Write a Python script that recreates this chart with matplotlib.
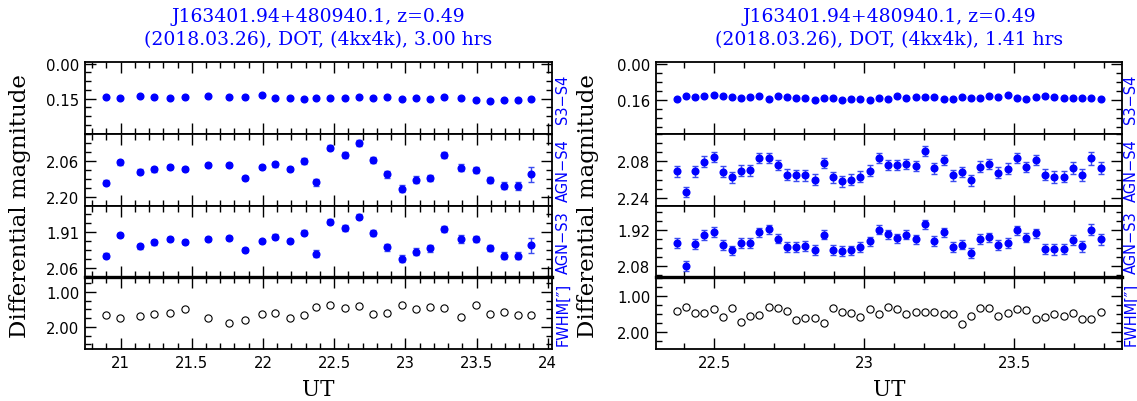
import matplotlib
matplotlib.use('Agg')
import matplotlib.pyplot as plt
from matplotlib.ticker import MultipleLocator, FixedLocator, AutoMinorLocator, FormatStrFormatter

plt.rcParams['font.family'] = 'DejaVu Serif'

# ---- night 1 (3.00 hrs) ----
ut_left = [20.897, 20.998, 21.133, 21.232, 21.347, 21.454, 21.614, 21.761, 21.874, 21.991,
           22.084, 22.192, 22.286, 22.372, 22.473, 22.574, 22.672, 22.773, 22.871, 22.974,
           23.073, 23.173, 23.274, 23.393, 23.494, 23.595, 23.693, 23.794, 23.885]
s3s4_left = [0.144, 0.146, 0.138, 0.143, 0.147, 0.143, 0.139, 0.144, 0.144, 0.136,
             0.147, 0.149, 0.151, 0.146, 0.146, 0.149, 0.142, 0.146, 0.143, 0.153,
             0.149, 0.153, 0.143, 0.149, 0.157, 0.161, 0.154, 0.157, 0.153]
agns4_left = [2.144, 2.065, 2.101, 2.091, 2.082, 2.089, 2.074, 2.074, 2.124, 2.082,
              2.073, 2.091, 2.060, 2.142, 2.008, 2.037, 1.990, 2.057, 2.111, 2.166,
              2.131, 2.125, 2.037, 2.085, 2.095, 2.133, 2.155, 2.157, 2.111]
agns4_err_left = [0.010, 0.010, 0.009, 0.010, 0.008, 0.008, 0.008, 0.008, 0.008, 0.008,
                  0.009, 0.009, 0.011, 0.013, 0.011, 0.012, 0.011, 0.012, 0.013, 0.013,
                  0.013, 0.013, 0.011, 0.014, 0.012, 0.012, 0.014, 0.015, 0.030]
agns3_left = [2.010, 1.923, 1.971, 1.954, 1.941, 1.952, 1.939, 1.935, 1.986, 1.950,
              1.929, 1.949, 1.913, 2.002, 1.866, 1.892, 1.846, 1.913, 1.975, 2.023,
              1.993, 1.979, 1.898, 1.939, 1.941, 1.979, 2.010, 2.010, 1.966]
agns3_err_left = [0.011, 0.010, 0.010, 0.010, 0.008, 0.008, 0.008, 0.008, 0.008, 0.008,
                  0.009, 0.009, 0.011, 0.014, 0.011, 0.013, 0.011, 0.012, 0.014, 0.014,
                  0.014, 0.014, 0.012, 0.016, 0.013, 0.013, 0.015, 0.016, 0.032]
fwhm_left = [1.65, 1.76, 1.70, 1.62, 1.61, 1.50, 1.75, 1.88, 1.79, 1.62,
             1.59, 1.76, 1.65, 1.42, 1.37, 1.45, 1.41, 1.62, 1.60, 1.37,
             1.49, 1.43, 1.46, 1.72, 1.39, 1.62, 1.57, 1.67, 1.67]

# ---- night 2 (1.41 hrs) ----
ut_right = [22.374, 22.405, 22.435, 22.466, 22.498, 22.529, 22.559, 22.590, 22.620, 22.650,
            22.681, 22.712, 22.743, 22.773, 22.803, 22.835, 22.865, 22.895, 22.925, 22.956,
            22.986, 23.017, 23.049, 23.079, 23.110, 23.140, 23.171, 23.202, 23.233, 23.264,
            23.294, 23.324, 23.356, 23.386, 23.417, 23.447, 23.478, 23.510, 23.540, 23.571,
            23.601, 23.632, 23.664, 23.694, 23.725, 23.756, 23.788]
s3s4_right = [0.153, 0.142, 0.144, 0.142, 0.138, 0.141, 0.145, 0.148, 0.147, 0.141,
              0.156, 0.139, 0.145, 0.148, 0.150, 0.160, 0.148, 0.148, 0.160, 0.153,
              0.153, 0.157, 0.151, 0.156, 0.142, 0.151, 0.147, 0.147, 0.147, 0.153,
              0.156, 0.147, 0.148, 0.148, 0.142, 0.147, 0.138, 0.151, 0.156, 0.144,
              0.141, 0.147, 0.148, 0.150, 0.151, 0.151, 0.153]
agns4_right = [2.124, 2.216, 2.123, 2.081, 2.059, 2.126, 2.151, 2.121, 2.120, 2.067,
               2.067, 2.095, 2.139, 2.142, 2.141, 2.161, 2.086, 2.150, 2.167, 2.160,
               2.148, 2.121, 2.067, 2.095, 2.095, 2.090, 2.101, 2.036, 2.110, 2.074,
               2.142, 2.126, 2.164, 2.104, 2.090, 2.130, 2.113, 2.067, 2.105, 2.074,
               2.139, 2.148, 2.147, 2.111, 2.141, 2.067, 2.111]
agns4_err_right = [0.024, 0.022, 0.024, 0.024, 0.022, 0.024, 0.024, 0.024, 0.024, 0.022,
                   0.022, 0.022, 0.024, 0.024, 0.024, 0.024, 0.022, 0.024, 0.024, 0.024,
                   0.024, 0.024, 0.022, 0.022, 0.022, 0.022, 0.022, 0.022, 0.024, 0.022,
                   0.024, 0.022, 0.024, 0.024, 0.022, 0.024, 0.024, 0.022, 0.022, 0.022,
                   0.024, 0.026, 0.026, 0.026, 0.026, 0.028, 0.026]
agns3_right = [1.978, 2.080, 1.984, 1.944, 1.929, 1.990, 2.013, 1.979, 1.978, 1.933,
               1.919, 1.960, 1.997, 1.999, 1.994, 2.009, 1.944, 2.009, 2.016, 2.013,
               1.999, 1.973, 1.921, 1.941, 1.958, 1.944, 1.964, 1.896, 1.972, 1.932,
               1.996, 1.987, 2.024, 1.963, 1.954, 1.988, 1.979, 1.923, 1.957, 1.936,
               2.006, 2.007, 2.006, 1.966, 1.994, 1.920, 1.964]
agns3_err_right = [0.022, 0.022, 0.022, 0.022, 0.022, 0.022, 0.022, 0.022, 0.022, 0.020,
                   0.020, 0.020, 0.022, 0.022, 0.022, 0.022, 0.020, 0.022, 0.022, 0.022,
                   0.022, 0.022, 0.020, 0.020, 0.020, 0.020, 0.020, 0.020, 0.022, 0.020,
                   0.022, 0.020, 0.022, 0.022, 0.020, 0.022, 0.022, 0.020, 0.020, 0.020,
                   0.022, 0.024, 0.024, 0.024, 0.024, 0.026, 0.024]
fwhm_right = [1.42, 1.31, 1.48, 1.46, 1.35, 1.58, 1.33, 1.72, 1.56, 1.53,
              1.29, 1.34, 1.42, 1.68, 1.61, 1.61, 1.74, 1.34, 1.45, 1.46,
              1.57, 1.36, 1.49, 1.30, 1.36, 1.51, 1.45, 1.44, 1.45, 1.51,
              1.49, 1.77, 1.55, 1.32, 1.34, 1.55, 1.46, 1.36, 1.40, 1.64,
              1.57, 1.51, 1.55, 1.48, 1.64, 1.64, 1.44]

title_line1 = 'J163401.94+480940.1, z=0.49'
title_left = '(2018.03.26), DOT, (4kx4k), 3.00 hrs'
title_right = '(2018.03.26), DOT, (4kx4k), 1.41 hrs'
row_names = ['S3\u2212S4', 'AGN\u2212S4', 'AGN\u2212S3', 'FWHM[\u2033]']

# y ranges (inverted, magnitudes) and major tick values per row
ylims_left = [(0.300, -0.007), (2.231, 1.955), (2.101, 1.798), (2.63, 0.585)]
yticks_left = [[0.00, 0.15], [2.06, 2.20], [1.91, 2.06], [1.00, 2.00]]
ylims_right = [(0.308, -0.010), (2.274, 1.959), (2.132, 1.813), (2.48, 0.47)]
yticks_right = [[0.00, 0.16], [2.08, 2.24], [1.92, 2.08], [1.00, 2.00]]

W, H = 1137, 402
fig = plt.figure(figsize=(W / 100, H / 100), dpi=100)

top_px, bot_px = 63, 350
row_h = (bot_px - top_px) / 4.0


def draw_night(x0_px, x1_px, xlim, ut, s3s4, agns4, e4, agns3, e3, fwhm,
               ylims, yticks, subtitle, ylab_px, rlab_px):
    axes = []
    for i in range(4):
        y_top = top_px + i * row_h
        ax = fig.add_axes([x0_px / W, 1 - (y_top + row_h) / H,
                           (x1_px - x0_px) / W, row_h / H])
        axes.append(ax)

    axes[0].plot(ut, s3s4, 'o', color='blue', ms=4.8, mec='blue')
    axes[1].errorbar(ut, agns4, yerr=e4, fmt='o', color='blue', ms=4.8,
                     ecolor='#3b4cf0', elinewidth=1.0, capsize=2.5, capthick=1.0)
    axes[2].errorbar(ut, agns3, yerr=e3, fmt='o', color='blue', ms=4.8,
                     ecolor='#3b4cf0', elinewidth=1.0, capsize=2.5, capthick=1.0)
    axes[3].plot(ut, fwhm, 'o', mfc='none', mec='black', ms=5.2, mew=0.8)

    for i, ax in enumerate(axes):
        ax.set_xlim(xlim)
        ax.set_ylim(ylims[i])
        ax.xaxis.set_major_locator(MultipleLocator(0.5))
        ax.xaxis.set_minor_locator(MultipleLocator(0.1))
        ax.yaxis.set_major_locator(FixedLocator(yticks[i]))
        ax.yaxis.set_minor_locator(AutoMinorLocator(4))
        ax.yaxis.set_major_formatter(FormatStrFormatter('%.2f'))
        ax.xaxis.set_major_formatter(FormatStrFormatter('%g'))
        ax.tick_params(which='both', direction='in', top=True, right=True,
                       labelsize=10.7, width=1.0)
        ax.tick_params(which='major', length=8, pad=4)
        ax.tick_params(which='minor', length=4)
        for lab in ax.get_xticklabels() + ax.get_yticklabels():
            lab.set_family('DejaVu Sans')
        for sp in ax.spines.values():
            sp.set_linewidth(1.3)
        if i < 3:
            ax.tick_params(labelbottom=False)
        # row label on the right, blue, reading upwards
        yc = 1 - (top_px + (i + 0.5) * row_h) / H
        fig.text(rlab_px / W, yc, row_names[i], rotation=90, ha='center',
                 va='center', color='blue', fontsize=10.5, family='DejaVu Sans')
    axes[3].spines['top'].set_linewidth(2.4)

    xc = (x0_px + x1_px) / 2.0 / W
    fig.text(xc, 1 - 17 / H, title_line1, ha='center', va='center',
             color='blue', fontsize=13.5)
    fig.text(xc, 1 - 40 / H, subtitle, ha='center', va='center',
             color='blue', fontsize=13.5)
    fig.text(xc, 1 - 390 / H, 'UT', ha='center', va='center', fontsize=15.5)
    fig.text(ylab_px / W, 1 - (top_px + bot_px) / 2.0 / H,
             'Differential magnitude', rotation=90, ha='center', va='center',
             fontsize=16.5)


draw_night(85, 552, (20.75, 24.03), ut_left, s3s4_left, agns4_left, agns4_err_left,
           agns3_left, agns3_err_left, fwhm_left, ylims_left, yticks_left,
           title_left, 20, 563)
draw_night(656, 1122, (22.305, 23.859), ut_right, s3s4_right, agns4_right, agns4_err_right,
           agns3_right, agns3_err_right, fwhm_right, ylims_right, yticks_right,
           title_right, 588, 1131)

fig.savefig('out.png', dpi=100)
